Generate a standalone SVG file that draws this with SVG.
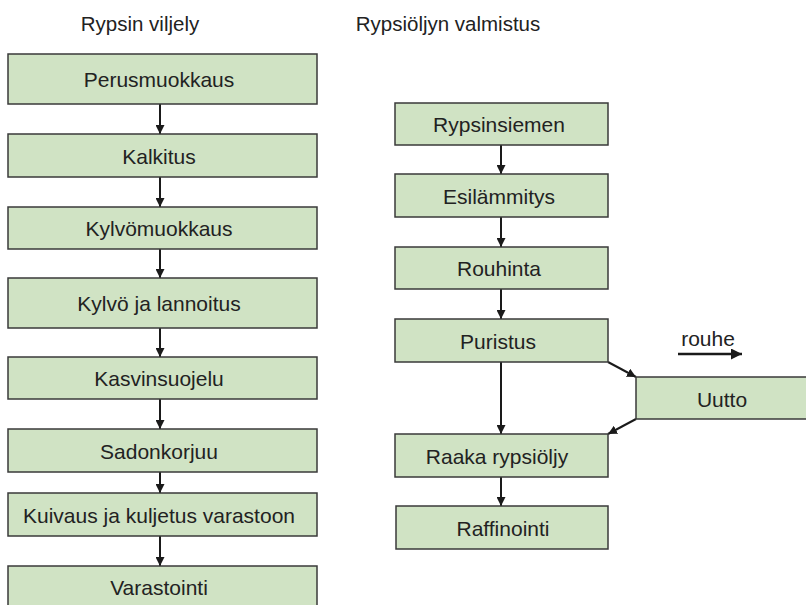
<svg xmlns="http://www.w3.org/2000/svg" width="806" height="605" viewBox="0 0 806 605">
<defs>
<style>
.box{fill:#d0e3c4;stroke:#3a3a3a;stroke-width:1.5}
.t{font-family:"Liberation Sans",Arial,sans-serif;font-size:21px;fill:#222;text-anchor:middle}
.title{font-family:"Liberation Sans",Arial,sans-serif;font-size:20.5px;fill:#222;text-anchor:middle}
.c{stroke:#1a1a1a;stroke-width:2;fill:none;marker-end:url(#ah)}
.cb{stroke:#1a1a1a;stroke-width:2.6;fill:none;marker-end:url(#ahb)}
</style>
<marker id="ah" viewBox="0 0 10 10" refX="10" refY="5" markerUnits="userSpaceOnUse" markerWidth="9" markerHeight="9" orient="auto">
<path d="M0,0 L10,5 L0,10 z" fill="#1a1a1a"/>
</marker>
<marker id="ahb" viewBox="0 0 10 10" refX="10" refY="5" markerUnits="userSpaceOnUse" markerWidth="12" markerHeight="11" orient="auto">
<path d="M0,0 L10,5 L0,10 z" fill="#1a1a1a"/>
</marker>
</defs>
<rect width="806" height="605" fill="#fff"/>
<text class="title" x="140" y="31">Rypsin viljely</text>
<text class="title" x="448" y="31">Rypsiöljyn valmistus</text>

<g id="connectors">
<line class="c" x1="160" y1="104" x2="160" y2="134"/>
<line class="c" x1="160" y1="177" x2="160" y2="207"/>
<line class="c" x1="160" y1="249" x2="160" y2="278"/>
<line class="c" x1="160" y1="328" x2="160" y2="357"/>
<line class="c" x1="160" y1="399" x2="160" y2="429"/>
<line class="c" x1="160" y1="472" x2="160" y2="493"/>
<line class="c" x1="160" y1="536" x2="160" y2="566"/>
<line class="c" x1="501" y1="145" x2="501" y2="174"/>
<line class="c" x1="501" y1="217" x2="501" y2="247"/>
<line class="c" x1="501" y1="289" x2="501" y2="319"/>
<line class="c" x1="501" y1="362" x2="501" y2="434"/>
<line class="c" x1="608" y1="362" x2="636" y2="377"/>
<line class="c" x1="636" y1="419" x2="608" y2="434"/>
<line class="c" x1="501" y1="477" x2="501" y2="506"/>
<line class="cb" x1="678" y1="354" x2="742" y2="354"/>
</g>
<text id="rouhe" class="t" x="708" y="346">rouhe</text>

<g id="n1"><rect class="box" x="8" y="54" width="309" height="50"/><text class="t" x="159" y="87">Perusmuokkaus</text></g>
<g id="n2"><rect class="box" x="8" y="134" width="309" height="43"/><text class="t" x="159" y="164">Kalkitus</text></g>
<g id="n3"><rect class="box" x="8" y="207" width="309" height="42"/><text class="t" x="159" y="236">Kylvömuokkaus</text></g>
<g id="n4"><rect class="box" x="8" y="278" width="309" height="50"/><text class="t" x="159" y="311">Kylvö ja lannoitus</text></g>
<g id="n5"><rect class="box" x="8" y="357" width="309" height="42"/><text class="t" x="159" y="386">Kasvinsuojelu</text></g>
<g id="n6"><rect class="box" x="8" y="429" width="309" height="43"/><text class="t" x="159" y="459">Sadonkorjuu</text></g>
<g id="n7"><rect class="box" x="8" y="493" width="309" height="43"/><text class="t" x="159" y="523">Kuivaus ja kuljetus varastoon</text></g>
<g id="n8"><rect class="box" x="8" y="566" width="309" height="44"/><text class="t" x="159" y="595">Varastointi</text></g>

<g id="m1"><rect class="box" x="395" y="103" width="213" height="42"/><text class="t" x="499" y="132">Rypsinsiemen</text></g>
<g id="m2"><rect class="box" x="395" y="174" width="213" height="43"/><text class="t" x="499" y="204">Esilämmitys</text></g>
<g id="m3"><rect class="box" x="395" y="247" width="213" height="42"/><text class="t" x="499" y="276">Rouhinta</text></g>
<g id="m4"><rect class="box" x="395" y="319" width="213" height="43"/><text class="t" x="498" y="349">Puristus</text></g>
<g id="m5"><rect class="box" x="636" y="377" width="190" height="42"/><text class="t" x="722" y="407">Uutto</text></g>
<g id="m6"><rect class="box" x="395" y="434" width="213" height="43"/><text class="t" x="497" y="464">Raaka rypsiöljy</text></g>
<g id="m7"><rect class="box" x="396" y="506" width="212" height="43"/><text class="t" x="503" y="536">Raffinointi</text></g>
</svg>
